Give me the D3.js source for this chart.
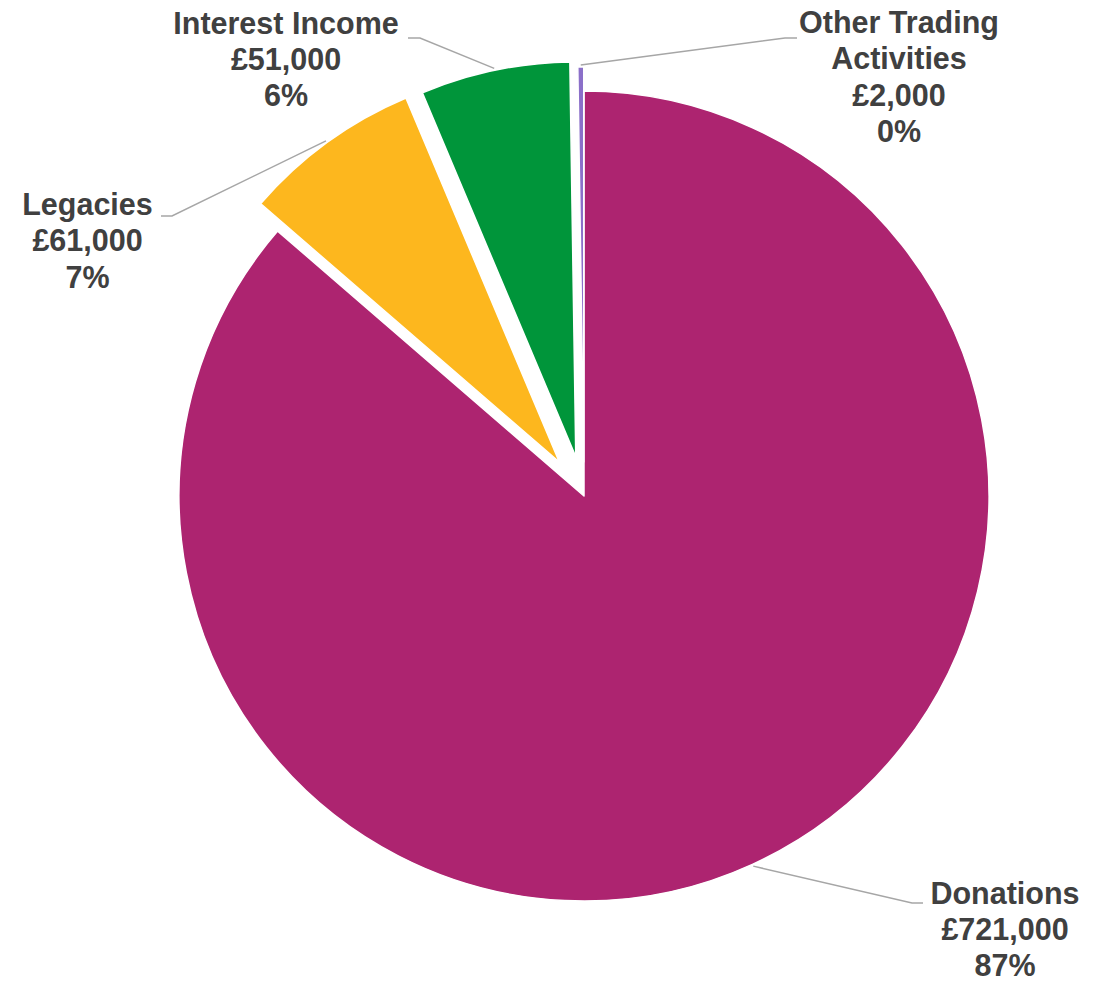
<!DOCTYPE html>
<html><head><meta charset="utf-8">
<script src="https://cdn.jsdelivr.net/npm/d3@7"></script>
<style>body{margin:0;background:#fff}svg{display:block}</style>
</head><body><svg id="chart" width="1106" height="981"></svg>
<script>
// ---- data ----
const categories = ["Donations", "Legacies", "Interest Income", "Other Trading Activities"];
const values = [721000, 61000, 51000, 2000];
const valueLabels = ["£721,000", "£61,000", "£51,000", "£2,000"];
const percentLabels = ["87%", "7%", "6%", "0%"];
const nameLines = [["Donations"], ["Legacies"], ["Interest Income"], ["Other Trading", "Activities"]];

// ---- style / layout ----
const colors = ["#AD2470", "#FDB71E", "#00953A", "#8B6FC9"];
const explode = [0, 42, 40, 34];
const radii = [405, 395, 395, 395];
const cx = 584, cy = 496;
const labelLayout = [
  { x: 1005, y: 903.5, elbow: [912, 903], end: [923, 903] },
  { x: 87.5, y: 215, elbow: [172, 216], end: [161, 216] },
  { x: 286, y: 33.5, elbow: [420, 38], end: [408, 38] },
  { x: 899, y: 33, elbow: [785, 38], end: [797, 38] }
];
const lineH = 36.3;

const svg = d3.select("#chart");
const g = svg.append("g").attr("transform", `translate(${cx},${cy})`);

const pie = d3.pie().sort(null).value(d => d).startAngle(0).endAngle(2 * Math.PI);
const arcs = pie(values);

arcs.forEach((a, i) => {
  const mid = (a.startAngle + a.endAngle) / 2;
  const ox = explode[i] * Math.sin(mid), oy = -explode[i] * Math.cos(mid);
  const arc = d3.arc().innerRadius(0).outerRadius(radii[i]);
  g.append("path")
    .attr("d", arc(a))
    .attr("transform", `translate(${ox},${oy})`)
    .attr("fill", colors[i])
    .attr("stroke", "#fff")
    .attr("stroke-width", 1.5)
    .attr("stroke-linejoin", "round");

  // leader line
  const rs = radii[i] + 2;
  const sx = cx + ox + rs * Math.sin(mid), sy = cy + oy - rs * Math.cos(mid);
  const L = labelLayout[i];
  svg.append("polyline")
    .attr("points", [[sx, sy], L.elbow, L.end].map(p => p.join(",")).join(" "))
    .attr("fill", "none")
    .attr("stroke", "#A6A6A6")
    .attr("stroke-width", 1.5);

  const lines = nameLines[i].concat([valueLabels[i], percentLabels[i]]);
  const t = svg.append("text")
    .attr("x", L.x).attr("y", L.y)
    .attr("text-anchor", "middle")
    .attr("font-family", "'Liberation Sans', Arial, sans-serif")
    .attr("font-weight", "bold")
    .attr("font-size", 30.5)
    .attr("fill", "#404040");
  lines.forEach((s, k) => {
    t.append("tspan").attr("x", L.x).attr("y", L.y + k * lineH).text(s);
  });
});
</script>
</body></html>
